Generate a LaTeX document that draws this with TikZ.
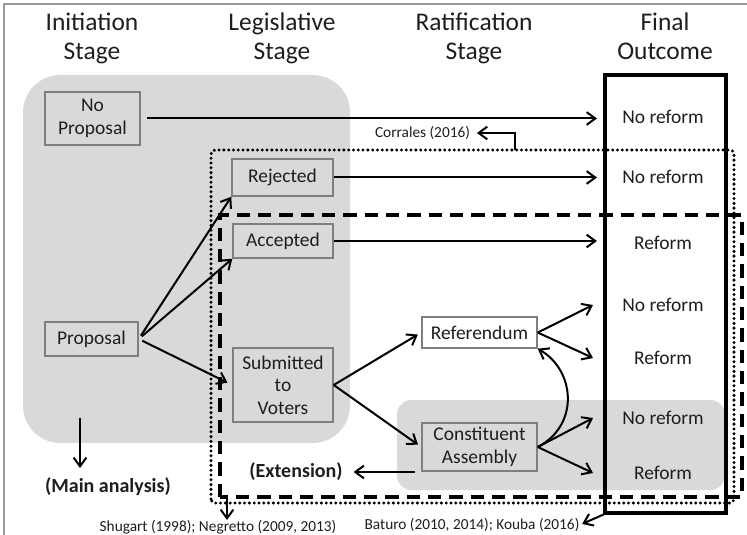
\documentclass[tikz,border=0pt]{standalone}
\usepackage{fontspec}
\setmainfont{Carlito}
\usetikzlibrary{arrows.meta}
\definecolor{grayfill}{HTML}{D9D9D9}
\definecolor{boxline}{HTML}{7F7F7F}
\definecolor{txt}{HTML}{1E1E1E}
\begin{document}
\begin{tikzpicture}[x=0.75pt,y=-0.75pt,
  every node/.style={text=txt},
  header/.style={anchor=base, inner sep=0pt, font=\fontsize{19.1}{22}\selectfont},
  stagebox/.style={draw=boxline, line width=1.1pt, fill=grayfill, inner sep=0pt, align=center, font=\fontsize{14.6}{16.9}\selectfont},
  outtext/.style={inner sep=0pt, font=\fontsize{14.6}{16.9}\selectfont},
  boldlbl/.style={inner sep=0pt, font=\bfseries\fontsize{15}{18}\selectfont},
  smalllbl/.style={inner sep=0pt, font=\fontsize{11.5}{13.5}\selectfont},
  arr/.style={line width=1.5pt, -{Straight Barb[length=6.5pt,width=9.5pt]}},
  dotbox/.style={line width=2.5pt, line cap=round, dash pattern=on 0pt off 3.6pt},
  dashbox/.style={line width=2.3pt, dash pattern=on 10pt off 6pt}
]
\useasboundingbox (0,0) rectangle (747,535);
% frame
\draw[black!40, line width=0.8pt] (4,535) -- (4,4) -- (747,4);
% grey regions
\fill[grayfill, rounded corners=28pt] (23,75) rectangle (350,443);
\fill[grayfill, rounded corners=11pt] (397,400) rectangle (725,490);
% dotted and dashed regions
\draw[dotbox, rounded corners=3pt] (211,503) -- (211,150) -- (734,150) -- (734,503) -- cycle;
\draw[dashbox] (220,497) -- (220,215) -- (742,215) -- (742,497) -- cycle;
% final outcome box
\node[draw=black, line width=2.3pt, minimum width=90.75pt, minimum height=328.5pt, inner sep=0pt] (final) at (665.5,294) {};

% headers
\node[header] (h1a) at (92,31) {Initiation};
\node[header] (h1b) at (92,60) {Stage};
\node[header] (h2a) at (282,31) {Legislative};
\node[header] (h2b) at (282,60) {Stage};
\node[header] (h3a) at (474,31) {Ratification};
\node[header] (h3b) at (474,60) {Stage};
\node[header] (h4a) at (665,31) {Final};
\node[header] (h4b) at (665,60) {Outcome};

% stage boxes
\node[stagebox, minimum width=71.25pt, minimum height=39.75pt] (nop) at (92.5,118.5) {No\\Proposal};
\node[stagebox, minimum width=75.75pt, minimum height=27.75pt] (rej) at (282.5,177.5) {Rejected};
\node[stagebox, minimum width=75pt, minimum height=25.5pt] (acc) at (283,241) {Accepted};
\node[stagebox, minimum width=69.75pt, minimum height=25.5pt] (prop) at (91.5,339) {Proposal};
\node[stagebox, minimum width=75pt, minimum height=55.5pt] (sub) at (283,385) {Submitted\\to\\Voters};
\node[stagebox, fill=white, minimum width=86.25pt, minimum height=23.25pt] (ref) at (479.5,332.5) {Referendum};
\node[stagebox, minimum width=86.25pt, minimum height=36pt] (ca) at (479.5,447) {Constituent\\Assembly};

% outcomes
\node[outtext] (o1) at (663,117) {No reform};
\node[outtext] (o2) at (663,177) {No reform};
\node[outtext] (o3) at (663,243) {Reform};
\node[outtext] (o4) at (663,305) {No reform};
\node[outtext] (o5) at (663,358) {Reform};
\node[outtext] (o6) at (663,418) {No reform};
\node[outtext] (o7) at (663,473) {Reform};

% labels
\node[boldlbl] (main) at (108,487) {(Main analysis)};
\node[boldlbl] (ext) at (296,472) {(Extension)};
\node[smalllbl] (cor) at (422.5,133) {Corrales (2016)};
\node[smalllbl] (shug) at (218,527) {Shugart (1998); Negretto (2009, 2013)};
\node[smalllbl] (bat) at (472,525) {Baturo (2010, 2014); Kouba (2016)};

% helper coordinates
\coordinate (tA) at (597,0);
\coordinate (tB) at (593,0);
\coordinate (ms) at (80,418);
\coordinate (me) at (80,468);
\coordinate (es) at (415,472);
\coordinate (cs) at (515,150);
\coordinate (ss) at (227,497);
\coordinate (se) at (227,520);

% arrows
\draw[arr, shorten <=5pt] (nop.east) -- (nop.east -| tA);
\draw[arr] (rej.east) -- (rej.east -| tA);
\draw[arr] (acc.east) -- (acc.east -| tA);
\draw[arr, shorten <=3pt] (prop.east) -- (rej.south west);
\draw[arr, shorten <=3pt] (prop.east) -- (acc.south west);
\draw[arr, shorten <=3pt, shorten >=4pt] (prop.east) -- (sub.west);
\draw[arr, shorten >=3pt] (sub.east) -- (ref.west);
\draw[arr, shorten >=3pt] (sub.east) -- (ca.west);
\draw[arr] (ref.east) -- (o4.west -| tB);
\draw[arr] (ref.east) -- (o5.west -| tB);
\draw[arr] (ca.east) -- (o6.west -| tB);
\draw[arr] (ca.east) -- (o7.west -| tB);
\draw[arr] (ca.east) .. controls (580,425) and (575,370) .. (ref.south east);
\draw[arr] (ms) -- (me);
\draw[arr, shorten >=8pt] (es) -- (ext.east);
\draw[arr, shorten >=5pt] (cs) |- (cor.east);
\draw[arr] (ss) -- (se);
\draw[arr, shorten >=2pt] (final.south west) -- (bat.east);
\end{tikzpicture}
\end{document}
